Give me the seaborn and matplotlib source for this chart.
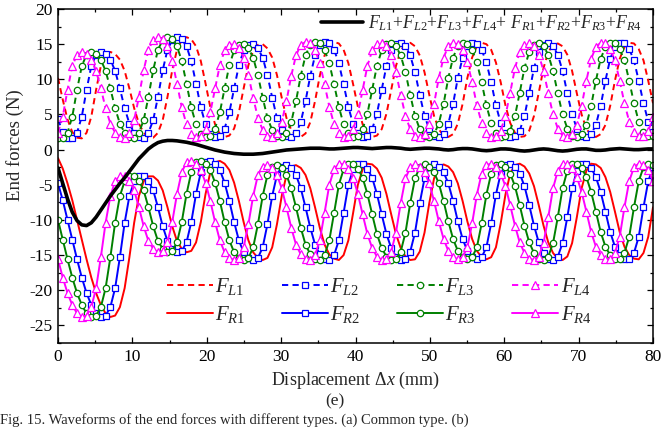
import numpy as np
import pandas as pd
import matplotlib
matplotlib.use("Agg")
import matplotlib.pyplot as plt
import seaborn as sns
from matplotlib.ticker import MultipleLocator

# ---------------- data ----------------
displacement = np.linspace(0, 80, 126)   # sample positions, 0.64 mm apart

FL1 = [10.2, 7.1, 4.3, 2.5, 1.7, 1.6, 2.4, 4.7, 8.5, 11.9,
       13.5, 13.9, 13.6, 12.8, 11.2, 8.7, 5.9, 3.7, 2.4, 1.8,
       1.7, 2.4, 4.2, 7.5, 11.3, 14.2, 15.6, 16.0, 15.7, 14.7,
       12.6, 9.4, 6.0, 3.6, 2.2, 1.8, 2.0, 3.0, 5.3, 8.7,
       12.0, 14.1, 14.9, 15.0, 14.4, 13.1, 10.6, 7.4, 4.5, 2.8,
       2.0, 1.8, 2.3, 3.9, 6.9, 10.5, 13.4, 14.9, 15.3, 15.1,
       14.2, 12.3, 9.3, 6.1, 3.6, 2.3, 1.8, 2.0, 2.9, 5.1,
       8.5, 11.9, 14.1, 15.0, 15.2, 14.7, 13.4, 11.0, 7.8, 4.8,
       2.9, 2.0, 1.8, 2.2, 3.7, 6.5, 10.2, 13.1, 14.7, 15.2,
       15.0, 14.2, 12.4, 9.6, 6.3, 3.8, 2.4, 1.8, 1.9, 2.7,
       4.8, 8.1, 11.6, 13.9, 14.9, 15.1, 14.7, 13.5, 11.2, 8.0,
       5.0, 3.0, 2.0, 1.8, 2.2, 3.5, 6.2, 9.8, 12.9, 14.6,
       15.2, 15.1, 14.3, 12.7, 9.8, 6.6]

FL2 = [4.3, 2.5, 1.7, 1.6, 2.4, 4.7, 8.5, 11.9, 13.5, 13.9,
       13.6, 12.8, 11.2, 8.7, 5.9, 3.7, 2.4, 1.8, 1.7, 2.4,
       4.2, 7.5, 11.3, 14.2, 15.6, 16.0, 15.7, 14.7, 12.6, 9.4,
       6.0, 3.6, 2.2, 1.8, 2.0, 3.0, 5.3, 8.7, 12.0, 14.1,
       14.9, 15.0, 14.4, 13.1, 10.6, 7.4, 4.5, 2.8, 2.0, 1.8,
       2.3, 3.9, 6.9, 10.5, 13.4, 14.9, 15.3, 15.1, 14.2, 12.3,
       9.3, 6.1, 3.6, 2.3, 1.8, 2.0, 2.9, 5.1, 8.5, 11.9,
       14.1, 15.0, 15.2, 14.7, 13.4, 11.0, 7.8, 4.8, 2.9, 2.0,
       1.8, 2.2, 3.7, 6.5, 10.2, 13.1, 14.7, 15.2, 15.0, 14.2,
       12.4, 9.6, 6.3, 3.8, 2.4, 1.8, 1.9, 2.7, 4.8, 8.1,
       11.6, 13.9, 14.9, 15.1, 14.7, 13.5, 11.2, 8.0, 5.0, 3.0,
       2.0, 1.8, 2.2, 3.5, 6.2, 9.8, 12.9, 14.6, 15.2, 15.1,
       14.3, 12.7, 9.8, 6.6, 4.0, 2.5]

FL3 = [1.7, 1.6, 2.4, 4.7, 8.5, 11.9, 13.5, 13.9, 13.6, 12.8,
       11.2, 8.7, 5.9, 3.7, 2.4, 1.8, 1.7, 2.4, 4.2, 7.5,
       11.3, 14.2, 15.6, 16.0, 15.7, 14.7, 12.6, 9.4, 6.0, 3.6,
       2.2, 1.8, 2.0, 3.0, 5.3, 8.7, 12.0, 14.1, 14.9, 15.0,
       14.4, 13.1, 10.6, 7.4, 4.5, 2.8, 2.0, 1.8, 2.3, 3.9,
       6.9, 10.5, 13.4, 14.9, 15.3, 15.1, 14.2, 12.3, 9.3, 6.1,
       3.6, 2.3, 1.8, 2.0, 2.9, 5.1, 8.5, 11.9, 14.1, 15.0,
       15.2, 14.7, 13.4, 11.0, 7.8, 4.8, 2.9, 2.0, 1.8, 2.2,
       3.7, 6.5, 10.2, 13.1, 14.7, 15.2, 15.0, 14.2, 12.4, 9.6,
       6.3, 3.8, 2.4, 1.8, 1.9, 2.7, 4.8, 8.1, 11.6, 13.9,
       14.9, 15.1, 14.7, 13.5, 11.2, 8.0, 5.0, 3.0, 2.0, 1.8,
       2.2, 3.5, 6.2, 9.8, 12.9, 14.6, 15.2, 15.1, 14.3, 12.7,
       9.8, 6.6, 4.0, 2.5, 1.9, 1.9]

FL4 = [2.4, 4.7, 8.5, 11.9, 13.5, 13.9, 13.6, 12.8, 11.2, 8.7,
       5.9, 3.7, 2.4, 1.8, 1.7, 2.4, 4.2, 7.5, 11.3, 14.2,
       15.6, 16.0, 15.7, 14.7, 12.6, 9.4, 6.0, 3.6, 2.2, 1.8,
       2.0, 3.0, 5.3, 8.7, 12.0, 14.1, 14.9, 15.0, 14.4, 13.1,
       10.6, 7.4, 4.5, 2.8, 2.0, 1.8, 2.3, 3.9, 6.9, 10.5,
       13.4, 14.9, 15.3, 15.1, 14.2, 12.3, 9.3, 6.1, 3.6, 2.3,
       1.8, 2.0, 2.9, 5.1, 8.5, 11.9, 14.1, 15.0, 15.2, 14.7,
       13.4, 11.0, 7.8, 4.8, 2.9, 2.0, 1.8, 2.2, 3.7, 6.5,
       10.2, 13.1, 14.7, 15.2, 15.0, 14.2, 12.4, 9.6, 6.3, 3.8,
       2.4, 1.8, 1.9, 2.7, 4.8, 8.1, 11.6, 13.9, 14.9, 15.1,
       14.7, 13.5, 11.2, 8.0, 5.0, 3.0, 2.0, 1.8, 2.2, 3.5,
       6.2, 9.8, 12.9, 14.6, 15.2, 15.1, 14.3, 12.7, 9.8, 6.6,
       4.0, 2.5, 1.9, 1.9, 2.6, 4.6]

FR1 = [-1.2, -2.7, -4.8, -7.2, -10.0, -12.8, -15.6, -18.2, -20.4, -22.1,
       -23.3, -23.8, -23.6, -22.4, -19.7, -15.3, -10.4, -6.6, -4.5, -3.8,
       -3.8, -4.4, -5.8, -8.2, -10.9, -13.0, -14.1, -14.6, -14.4, -13.2,
       -10.3, -6.3, -3.2, -1.8, -1.6, -2.0, -2.9, -4.7, -7.3, -10.3,
       -12.9, -14.6, -15.4, -15.7, -15.4, -13.9, -10.6, -6.6, -3.6, -2.4,
       -2.2, -2.6, -3.6, -5.5, -8.2, -11.1, -13.5, -14.9, -15.5, -15.7,
       -15.0, -12.9, -9.0, -5.0, -2.8, -2.0, -2.1, -2.7, -4.0, -6.3,
       -9.2, -12.0, -14.0, -15.2, -15.7, -15.6, -14.5, -11.8, -7.6, -4.1,
       -2.5, -2.1, -2.4, -3.2, -4.8, -7.3, -10.2, -12.7, -14.4, -15.3,
       -15.6, -15.3, -13.9, -10.5, -6.4, -3.4, -2.2, -2.0, -2.4, -3.4,
       -5.2, -7.9, -10.8, -13.2, -14.7, -15.5, -15.7, -15.2, -13.3, -9.6,
       -5.5, -3.0, -2.0, -2.1, -2.6, -3.9, -6.0, -8.8, -11.7, -13.8,
       -15.0, -15.5, -15.6, -14.7, -12.4, -8.2]

FR2 = [-4.8, -7.2, -10.0, -12.8, -15.6, -18.2, -20.4, -22.1, -23.3, -23.8,
       -23.6, -22.4, -19.7, -15.3, -10.4, -6.6, -4.5, -3.8, -3.8, -4.4,
       -5.8, -8.2, -10.9, -13.0, -14.1, -14.6, -14.4, -13.2, -10.3, -6.3,
       -3.2, -1.8, -1.6, -2.0, -2.9, -4.7, -7.3, -10.3, -12.9, -14.6,
       -15.4, -15.7, -15.4, -13.9, -10.6, -6.6, -3.6, -2.4, -2.2, -2.6,
       -3.6, -5.5, -8.2, -11.1, -13.5, -14.9, -15.5, -15.7, -15.0, -12.9,
       -9.0, -5.0, -2.8, -2.0, -2.1, -2.7, -4.0, -6.3, -9.2, -12.0,
       -14.0, -15.2, -15.7, -15.6, -14.5, -11.8, -7.6, -4.1, -2.5, -2.1,
       -2.4, -3.2, -4.8, -7.3, -10.2, -12.7, -14.4, -15.3, -15.6, -15.3,
       -13.9, -10.5, -6.4, -3.4, -2.2, -2.0, -2.4, -3.4, -5.2, -7.9,
       -10.8, -13.2, -14.7, -15.5, -15.7, -15.2, -13.3, -9.6, -5.5, -3.0,
       -2.0, -2.1, -2.6, -3.9, -6.0, -8.8, -11.7, -13.8, -15.0, -15.5,
       -15.6, -14.7, -12.4, -8.2, -4.5, -2.5]

FR3 = [-10.0, -12.8, -15.6, -18.2, -20.4, -22.1, -23.3, -23.8, -23.6, -22.4,
       -19.7, -15.3, -10.4, -6.6, -4.5, -3.8, -3.8, -4.4, -5.8, -8.2,
       -10.9, -13.0, -14.1, -14.6, -14.4, -13.2, -10.3, -6.3, -3.2, -1.8,
       -1.6, -2.0, -2.9, -4.7, -7.3, -10.3, -12.9, -14.6, -15.4, -15.7,
       -15.4, -13.9, -10.6, -6.6, -3.6, -2.4, -2.2, -2.6, -3.6, -5.5,
       -8.2, -11.1, -13.5, -14.9, -15.5, -15.7, -15.0, -12.9, -9.0, -5.0,
       -2.8, -2.0, -2.1, -2.7, -4.0, -6.3, -9.2, -12.0, -14.0, -15.2,
       -15.7, -15.6, -14.5, -11.8, -7.6, -4.1, -2.5, -2.1, -2.4, -3.2,
       -4.8, -7.3, -10.2, -12.7, -14.4, -15.3, -15.6, -15.3, -13.9, -10.5,
       -6.4, -3.4, -2.2, -2.0, -2.4, -3.4, -5.2, -7.9, -10.8, -13.2,
       -14.7, -15.5, -15.7, -15.2, -13.3, -9.6, -5.5, -3.0, -2.0, -2.1,
       -2.6, -3.9, -6.0, -8.8, -11.7, -13.8, -15.0, -15.5, -15.6, -14.7,
       -12.4, -8.2, -4.5, -2.5, -2.0, -2.2]

FR4 = [-15.6, -18.2, -20.4, -22.1, -23.3, -23.8, -23.6, -22.4, -19.7, -15.3,
       -10.4, -6.6, -4.5, -3.8, -3.8, -4.4, -5.8, -8.2, -10.9, -13.0,
       -14.1, -14.6, -14.4, -13.2, -10.3, -6.3, -3.2, -1.8, -1.6, -2.0,
       -2.9, -4.7, -7.3, -10.3, -12.9, -14.6, -15.4, -15.7, -15.4, -13.9,
       -10.6, -6.6, -3.6, -2.4, -2.2, -2.6, -3.6, -5.5, -8.2, -11.1,
       -13.5, -14.9, -15.5, -15.7, -15.0, -12.9, -9.0, -5.0, -2.8, -2.0,
       -2.1, -2.7, -4.0, -6.3, -9.2, -12.0, -14.0, -15.2, -15.7, -15.6,
       -14.5, -11.8, -7.6, -4.1, -2.5, -2.1, -2.4, -3.2, -4.8, -7.3,
       -10.2, -12.7, -14.4, -15.3, -15.6, -15.3, -13.9, -10.5, -6.4, -3.4,
       -2.2, -2.0, -2.4, -3.4, -5.2, -7.9, -10.8, -13.2, -14.7, -15.5,
       -15.7, -15.2, -13.3, -9.6, -5.5, -3.0, -2.0, -2.1, -2.6, -3.9,
       -6.0, -8.8, -11.7, -13.8, -15.0, -15.5, -15.6, -14.7, -12.4, -8.2,
       -4.5, -2.5, -2.0, -2.2, -2.9, -4.4]

F_sum = [-2.6, -4.8, -7.0, -8.9, -10.1, -10.7, -10.8, -10.4, -9.6, -8.6,
         -7.6, -6.6, -5.7, -4.8, -4.0, -3.1, -2.2, -1.3, -0.6, 0.1,
         0.6, 1.0, 1.2, 1.3, 1.3, 1.25, 1.15, 1.05, 0.9, 0.75,
         0.55, 0.35, 0.15, -0.05, -0.2, -0.35, -0.45, -0.55, -0.6, -0.65,
         -0.65, -0.65, -0.6, -0.55, -0.45, -0.35, -0.25, -0.15, -0.05, 0.0,
         0.05, 0.1, 0.15, 0.2, 0.2, 0.2, 0.15, 0.1, 0.1, 0.15,
         0.2, 0.25, 0.3, 0.3, 0.25, 0.2, 0.15, 0.2, 0.25, 0.3,
         0.3, 0.25, 0.2, 0.1, 0.05, 0.1, 0.15, 0.2, 0.2, 0.15,
         0.1, 0.0, -0.05, 0.0, 0.1, 0.15, 0.15, 0.1, 0.0, -0.1,
         -0.15, -0.1, 0.0, 0.1, 0.1, 0.05, -0.05, -0.15, -0.2, -0.15,
         -0.05, 0.05, 0.1, 0.05, -0.05, -0.15, -0.2, -0.15, -0.05, 0.05,
         0.1, 0.1, 0.0, -0.1, -0.1, -0.05, 0.05, 0.1, 0.15, 0.1,
         0.05, 0.0, 0.0, 0.05, 0.1, 0.1]

x_ticks = [0, 10, 20, 30, 40, 50, 60, 70, 80]
y_ticks = [-25, -20, -15, -10, -5, 0, 5, 10, 15, 20]

# ---------------- style ----------------
sns.set_theme(style="ticks")
plt.rcParams['font.family'] = ['Liberation Serif', 'DejaVu Serif']
plt.rcParams['mathtext.fontset'] = 'custom'
plt.rcParams['mathtext.rm'] = 'Liberation Serif'
plt.rcParams['mathtext.it'] = 'Liberation Serif:italic'
plt.rcParams['mathtext.bf'] = 'Liberation Serif:bold'
plt.rcParams['axes.unicode_minus'] = False

RED, BLUE, GREEN, MAG = '#ff0000', '#0000ff', '#008000', '#ff00ff'
DASH = (0, (3.2, 2.2))

df = pd.DataFrame({'x': displacement, 'FL1': FL1, 'FL2': FL2, 'FL3': FL3, 'FL4': FL4,
                   'FR1': FR1, 'FR2': FR2, 'FR3': FR3, 'FR4': FR4, 'SUM': F_sum})

fig = plt.figure(figsize=(6.61, 4.28), dpi=100)
ax = fig.add_axes([58 / 661, 1 - 343 / 428, 595 / 661, 334 / 428])

specs = [
    ('FL1', r'$F_{L1}$', RED, DASH, None, 0),
    ('FL2', r'$F_{L2}$', BLUE, DASH, 's', 4.3),
    ('FL3', r'$F_{L3}$', GREEN, DASH, 'o', 4.6),
    ('FL4', r'$F_{L4}$', MAG, DASH, '^', 5.2),
    ('FR1', r'$F_{R1}$', RED, '-', None, 0),
    ('FR2', r'$F_{R2}$', BLUE, '-', 's', 4.3),
    ('FR3', r'$F_{R3}$', GREEN, '-', 'o', 4.6),
    ('FR4', r'$F_{R4}$', MAG, '-', '^', 5.2),
]
handles = {}
for col, lab, c, ls, mk, ms in specs:
    kw = dict(color=c, linestyle=ls, linewidth=1.4)
    if mk is not None:
        kw.update(marker=mk, markersize=ms, markerfacecolor='white',
                  markeredgecolor=c, markeredgewidth=0.9)
    sns.lineplot(data=df, x='x', y=col, ax=ax, estimator=None, legend=False, **kw)
    handles[col] = (ax.lines[-1], lab)

sns.lineplot(data=df, x='x', y='SUM', ax=ax, estimator=None, legend=False,
             color='black', linewidth=2.6)
sum_line = ax.lines[-1]

ax.set_xlim(0, 80)
ax.set_ylim(-27.5, 20)
ax.set_xticks(x_ticks)
ax.set_yticks(y_ticks)
ax.xaxis.set_minor_locator(MultipleLocator(5))
ax.yaxis.set_minor_locator(MultipleLocator(2.5))
ax.tick_params(which='both', direction='in', top=True, right=True, width=0.9,
               colors='black', labelsize=12.5)
ax.tick_params(which='major', length=4.5, pad=4)
ax.tick_params(which='minor', length=2.5)
for s in ax.spines.values():
    s.set_linewidth(1.1)
    s.set_color('black')

ax.set_xlabel(r'Displacement $\Delta x$ (mm)', fontsize=13, labelpad=4)
ax.set_ylabel('End forces (N)', fontsize=13.5)
ax.yaxis.set_label_coords((24 - 58) / 595, (343 - 145) / 334)

order = ['FL1', 'FR1', 'FL2', 'FR2', 'FL3', 'FR3', 'FL4', 'FR4']
leg = ax.legend([handles[k][0] for k in order], [handles[k][1] for k in order],
                ncol=4, loc='upper left', bbox_to_anchor=(0.183, 0.201),
                frameon=False, fontsize=15, numpoints=1, handlelength=2.2,
                handletextpad=0.12, columnspacing=1.75, labelspacing=0.34,
                borderpad=0, borderaxespad=0)
ax.add_artist(leg)

sum_label = (r'$F_{L1}$+$F_{L2}$+$F_{L3}$+$F_{L4}$+ '
             r'$F_{R1}$+$F_{R2}$+$F_{R3}$+$F_{R4}$')
ax.legend([sum_line], [sum_label], loc='upper right', bbox_to_anchor=(0.981, 0.988),
          frameon=False, fontsize=12.8, handlelength=2.4, handletextpad=0.25,
          borderpad=0, borderaxespad=0)

fig.text(335 / 661, 1 - 401 / 428, '(e)', ha='center', va='center', fontsize=12.5)
fig.text(0.0, 0.002,
         'Fig. 15. Waveforms of the end forces with different types. (a) Common type. (b)',
         ha='left', va='bottom', fontsize=10.5)

fig.savefig('out.png', dpi=100)
